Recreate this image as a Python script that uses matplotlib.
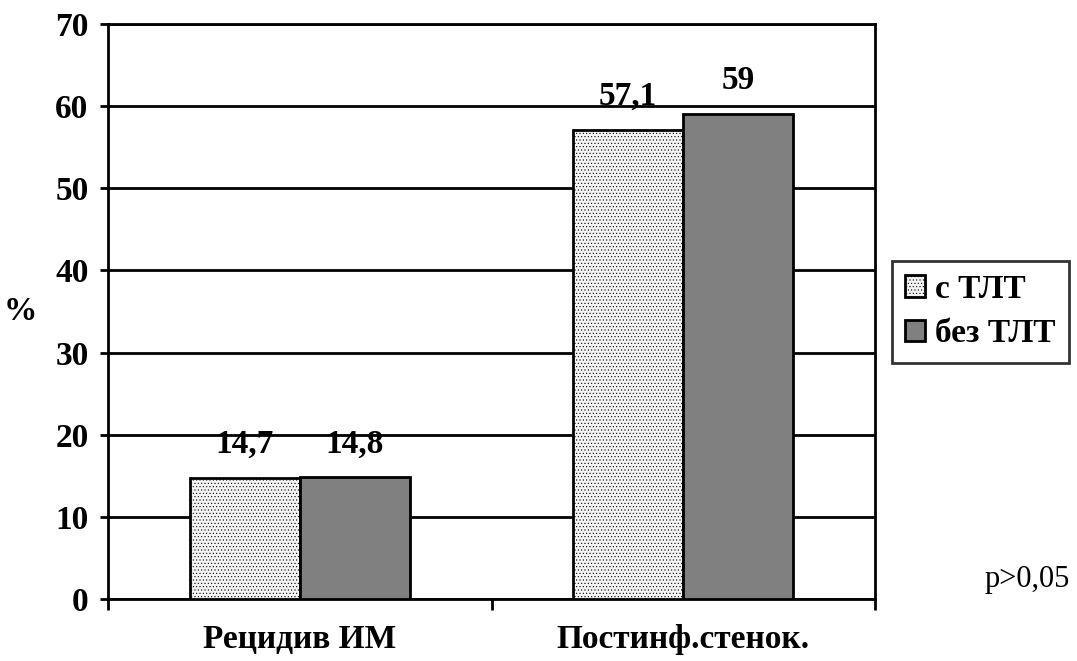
import numpy as np
import matplotlib.pyplot as plt

# данные
categories = ['Рецидив ИМ', 'Постинф.стенок.']
s_tlt = [14.7, 57.1]
bez_tlt = [14.8, 59]
labels_s = ['14,7', '57,1']
labels_bez = ['14,8', '59']

plt.rcParams['font.family'] = ['Liberation Serif', 'DejaVu Serif']
plt.rcParams['hatch.color'] = '#dadada'
plt.rcParams['hatch.linewidth'] = 0.4

fs = 24

fig = plt.figure(figsize=(10.77, 6.61), dpi=100)
ax = fig.add_axes([108/1077, 62/661, 767/1077, 575/661])

x = np.arange(len(categories))
w = 0.287
b1 = ax.bar(x - w/2, s_tlt, w, color='#f4f4f4', edgecolor='black', linewidth=2,
            hatch='.....', label='с ТЛТ', zorder=3)
b2 = ax.bar(x + w/2, bez_tlt, w, color='#808080', edgecolor='black', linewidth=2,
            label='без ТЛТ', zorder=3)

for rect, t in zip(b1, labels_s):
    ax.text(rect.get_x() + rect.get_width()/2, rect.get_height() + 2.2, t,
            ha='center', va='bottom', fontsize=fs, fontweight='bold')
for rect, t in zip(b2, labels_bez):
    ax.text(rect.get_x() + rect.get_width()/2, rect.get_height() + 2.2, t,
            ha='center', va='bottom', fontsize=fs, fontweight='bold')

ax.set_xlim(-0.5, 1.5)
ax.set_ylim(0, 70)
ax.set_yticks(np.arange(0, 71, 10))
ax.yaxis.grid(True, color='black', linewidth=2, zorder=0)
ax.set_axisbelow(True)

ax.set_xticks([-0.5, 0.5, 1.5])
ax.set_xticklabels([])
ax.set_xticks(x, minor=True)
ax.set_xticklabels(categories, minor=True, fontsize=fs, fontweight='bold')
ax.tick_params(axis='x', which='minor', length=0, pad=18)
ax.tick_params(axis='x', which='major', length=8, width=2, direction='out')
ax.tick_params(axis='y', length=6, width=2, direction='out', labelsize=fs, pad=8)
for lab in ax.get_yticklabels():
    lab.set_fontweight('bold')

for sp in ax.spines.values():
    sp.set_linewidth(2)

ax.set_ylabel('%', fontsize=fs, fontweight='bold', rotation=0, labelpad=25, va='center')

leg = ax.legend(loc='center left', bbox_to_anchor=(892/767 - 108/767, 0.5),
                prop={'weight': 'bold', 'size': fs}, frameon=True,
                fancybox=False, handlelength=0.6, handleheight=0.6,
                handletextpad=0.3, borderpad=0.4, labelspacing=0.4, borderaxespad=0)
leg.get_frame().set_edgecolor('black')
leg.get_frame().set_linewidth(2)

fig.text(985/1077, 1 - 580/661, 'p>0,05', fontsize=22, ha='left', va='center')

fig.savefig('out.png', dpi=100)
